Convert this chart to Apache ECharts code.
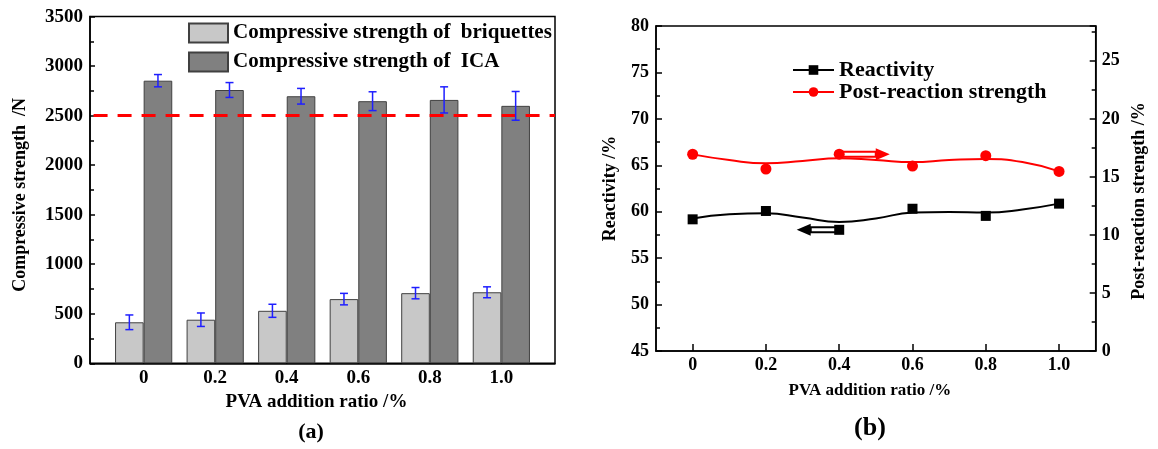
<!DOCTYPE html>
<html>
<head>
<meta charset="utf-8">
<script src="https://cdn.jsdelivr.net/npm/echarts@6/dist/echarts.min.js"></script>
<style>
  html, body { margin: 0; padding: 0; background: #fff; }
  #chart { width: 1158px; height: 449px; }
</style>
</head>
<body>
<div id="chart"></div>
<script>
// PVA addition ratio (%) and the tick labels printed for it
const ratios = [0, 0.2, 0.4, 0.6, 0.8, 1.0];
const ratioLabels = ['0', '0.2', '0.4', '0.6', '0.8', '1.0'];

// (a) compressive strength, N (mean and error-bar half range)
const briquetteStrength = [414, 440, 530, 648, 708, 717];
const briquetteError = [74, 68, 66, 58, 57, 55];
const icaStrength = [2853, 2759, 2696, 2646, 2659, 2599];
const icaError = [62, 75, 79, 95, 132, 145];
const strengthThreshold = 2500;

// (b) measured reactivity (%) and post-reaction strength (%)
const reactivity = [59.18, 60.08, 58.05, 60.32, 59.55, 60.87];
const postStrength = [16.95, 15.68, 16.96, 15.93, 16.83, 15.47];

// (b) fitted trend curves, sampled every 0.1 %
const fitRatios = [0, 0.1, 0.2, 0.3, 0.4, 0.5, 0.6, 0.7, 0.8, 0.9, 1.0];
const reactivityFit = [59.27, 59.73, 59.84, 59.38, 58.88, 59.27, 59.91, 59.98, 59.91, 60.24, 60.87];
const postStrengthFit = [16.94, 16.45, 16.17, 16.37, 16.60, 16.45, 16.28, 16.45, 16.54, 16.28, 15.48];

// direction arrows: tip position on the ratio axis
const reactivityArrowTip = 0.284;
const postStrengthArrowTip = 0.538;

const FONT = "'Liberation Serif', 'Times New Roman', serif";
const BAR_W = 28.6;

const names = {
  briq: 'Compressive strength of  briquettes',
  ica: 'Compressive strength of  ICA',
  react: 'Reactivity',
  post: 'Post-reaction strength'
};

function ratioLabel(v) {
  const i = ratios.findIndex(r => Math.abs(r - v) < 1e-6);
  return i >= 0 ? ratioLabels[i] : '';
}

function plainNumber(v) {
  return String(v);
}

function boldText(size) {
  return { fontFamily: FONT, fontWeight: 'bold', fontSize: size, color: '#000' };
}

const axisLine = { show: true, onZero: false, lineStyle: { color: '#000', width: 1.5 } };

function errorBars(offset) {
  return function (params, api) {
    const x = api.value(0);
    const hi = api.coord([x, api.value(2)]);
    const lo = api.coord([x, api.value(1)]);
    const cx = hi[0] + offset;
    const half = 4;
    const style = { stroke: '#1f1fff', lineWidth: 1.5, fill: null };
    return {
      type: 'group',
      children: [
        { type: 'line', shape: { x1: cx, y1: hi[1], x2: cx, y2: lo[1] }, style },
        { type: 'line', shape: { x1: cx - half, y1: hi[1], x2: cx + half, y2: hi[1] }, style },
        { type: 'line', shape: { x1: cx - half, y1: lo[1], x2: cx + half, y2: lo[1] }, style }
      ]
    };
  };
}

const panelLabels = [
  { id: 'labelA', type: 'text', x: 311, y: 432, style: { text: '(a)', align: 'center', verticalAlign: 'middle', font: 'bold 22px ' + FONT, fill: '#000' } },
  { id: 'labelB', type: 'text', x: 870, y: 428, style: { text: '(b)', align: 'center', verticalAlign: 'middle', font: 'bold 26px ' + FONT, fill: '#000' } }
];

const chart = echarts.init(document.getElementById('chart'), null, { renderer: 'canvas' });

const option = {
  backgroundColor: '#fff',
  animation: false,
  grid: [
    { left: 90, top: 16.6, width: 465, height: 346.7, show: true, borderColor: '#000', borderWidth: 1.5, backgroundColor: 'transparent' },
    { left: 656, top: 26, width: 439.7, height: 325, show: true, borderColor: '#000', borderWidth: 1.5, backgroundColor: 'transparent' }
  ],
  legend: [
    {
      data: [{ name: names.briq, icon: 'rect' }, { name: names.ica, icon: 'rect' }],
      orient: 'vertical', left: 188, top: 22.5, padding: 0,
      itemWidth: 39, itemHeight: 19, itemGap: 8,
      selectedMode: false,
      textStyle: boldText(21)
    },
    {
      data: [names.react, names.post],
      orient: 'vertical', left: 792, top: 59, padding: 0,
      itemWidth: 41, itemHeight: 12, itemGap: 0,
      selectedMode: false,
      textStyle: boldText(22)
    }
  ],
  xAxis: [
    {
      gridIndex: 0, type: 'value', min: -0.15, max: 1.15,
      axisLine: axisLine,
      axisTick: { show: false },
      splitLine: { show: false },
      axisLabel: Object.assign({ customValues: ratios, formatter: ratioLabel, margin: 5 }, boldText(19)),
      name: 'PVA addition ratio /%', nameLocation: 'middle', nameGap: 28,
      nameTextStyle: Object.assign({ padding: [0, 12, 0, 0] }, boldText(19))
    },
    {
      gridIndex: 1, type: 'value', min: -0.1, max: 1.1,
      axisLine: axisLine,
      axisTick: { show: true, inside: true, length: 7, customValues: ratios, lineStyle: { color: '#000', width: 1.5 } },
      splitLine: { show: false },
      axisLabel: Object.assign({ customValues: ratios, formatter: ratioLabel, margin: 5 }, boldText(18)),
      name: 'PVA addition ratio /%', nameLocation: 'middle', nameGap: 31,
      nameTextStyle: Object.assign({ padding: [0, 12, 0, 0] }, boldText(17))
    }
  ],
  yAxis: [
    {
      gridIndex: 0, type: 'value', min: 0, max: 3500, interval: 500,
      axisLine: axisLine,
      axisTick: { show: true, inside: true, length: 5, lineStyle: { color: '#000', width: 1.5 } },
      minorTick: { show: true, splitNumber: 2, length: 4, lineStyle: { color: '#000', width: 1.5 } },
      splitLine: { show: false },
      axisLabel: Object.assign({ margin: 7, formatter: plainNumber }, boldText(19)),
      name: 'Compressive strength  /N', nameLocation: 'middle', nameRotate: 90, nameGap: 61,
      nameTextStyle: Object.assign({ padding: [0, 10, 0, 0] }, boldText(18))
    },
    {
      gridIndex: 1, type: 'value', min: 45, max: 80, interval: 5,
      axisLine: axisLine,
      axisTick: { show: true, inside: true, length: 6, lineStyle: { color: '#000', width: 1.5 } },
      minorTick: { show: true, splitNumber: 2, length: 4, lineStyle: { color: '#000', width: 1.5 } },
      splitLine: { show: false },
      axisLabel: Object.assign({ margin: 7, formatter: plainNumber }, boldText(18)),
      name: 'Reactivity /%', nameLocation: 'middle', nameRotate: 90, nameGap: 37,
      nameTextStyle: boldText(18)
    },
    {
      gridIndex: 1, type: 'value', position: 'right', min: 0, max: 28, interval: 5,
      axisLine: axisLine,
      axisTick: { show: true, inside: true, length: 6, lineStyle: { color: '#000', width: 1.5 } },
      minorTick: { show: true, splitNumber: 2, length: 4, lineStyle: { color: '#000', width: 1.5 } },
      splitLine: { show: false },
      axisLabel: Object.assign({ margin: 6, showMaxLabel: false, formatter: plainNumber }, boldText(18)),
      name: 'Post-reaction strength /%', nameLocation: 'middle', nameRotate: 90, nameGap: 35,
      nameTextStyle: Object.assign({ padding: [0, 25, 0, 0] }, boldText(18))
    }
  ],
  series: [
    {
      name: names.briq, type: 'bar', xAxisIndex: 0, yAxisIndex: 0,
      barWidth: BAR_W, barGap: '0%',
      itemStyle: { color: '#c8c8c8', borderColor: '#404040', borderWidth: 1 },
      data: ratios.map((r, i) => [r, briquetteStrength[i]])
    },
    {
      name: names.ica, type: 'bar', xAxisIndex: 0, yAxisIndex: 0,
      barWidth: BAR_W, barGap: '0%',
      itemStyle: { color: '#808080', borderColor: '#404040', borderWidth: 1 },
      data: ratios.map((r, i) => [r, icaStrength[i]])
    },
    {
      // red dashed reference level at 2500 N
      name: 'threshold', type: 'line', xAxisIndex: 0, yAxisIndex: 0, z: 4,
      data: [],
      markLine: {
        silent: true, symbol: ['none', 'none'], label: { show: false },
        lineStyle: { color: '#ff0000', type: [14, 10], width: 3 },
        data: [[{ coord: [-0.14, strengthThreshold] }, { coord: [1.15, strengthThreshold] }]]
      }
    },
    {
      type: 'custom', xAxisIndex: 0, yAxisIndex: 0, z: 5,
      renderItem: errorBars(-BAR_W / 2),
      encode: { x: 0, y: [1, 2] },
      data: ratios.map((r, i) => [r, briquetteStrength[i] - briquetteError[i], briquetteStrength[i] + briquetteError[i]])
    },
    {
      type: 'custom', xAxisIndex: 0, yAxisIndex: 0, z: 5,
      renderItem: errorBars(BAR_W / 2),
      encode: { x: 0, y: [1, 2] },
      data: ratios.map((r, i) => [r, icaStrength[i] - icaError[i], icaStrength[i] + icaError[i]])
    },
    {
      name: names.react, type: 'line', xAxisIndex: 1, yAxisIndex: 1,
      smooth: true, symbol: 'rect', showSymbol: false,
      lineStyle: { color: '#000', width: 2 }, itemStyle: { color: '#000' },
      data: fitRatios.map((r, i) => [r, reactivityFit[i]])
    },
    {
      name: 'Reactivity points', type: 'scatter', xAxisIndex: 1, yAxisIndex: 1,
      symbol: 'rect', symbolSize: 10, itemStyle: { color: '#000', opacity: 1 }, z: 4,
      data: ratios.map((r, i) => [r, reactivity[i]])
    },
    {
      name: names.post, type: 'line', xAxisIndex: 1, yAxisIndex: 2,
      smooth: true, symbol: 'circle', showSymbol: false,
      lineStyle: { color: '#ff0000', width: 2 }, itemStyle: { color: '#ff0000' },
      data: fitRatios.map((r, i) => [r, postStrengthFit[i]])
    },
    {
      name: 'Post-reaction strength points', type: 'scatter', xAxisIndex: 1, yAxisIndex: 2,
      symbol: 'circle', symbolSize: 11, itemStyle: { color: '#ff0000', opacity: 1 }, z: 4,
      data: ratios.map((r, i) => [r, postStrength[i]])
    }
  ],
  graphic: panelLabels
};

chart.setOption(option);

// hollow arrows pointing from the 0.4 % points towards the axis each curve uses
function arrow(id, from, tip, color) {
  const dir = Math.sign(tip[0] - from[0]);
  const headLen = 14, headHalf = 6, shaftHalf = 2.5;
  const neck = tip[0] - dir * headLen;
  return {
    type: 'group', id: id, z: 1,
    children: [
      { type: 'rect', shape: { x: Math.min(from[0], neck), y: from[1] - shaftHalf, width: Math.abs(neck - from[0]), height: shaftHalf * 2 },
        style: { fill: null, stroke: color, lineWidth: 2 } },
      { type: 'polygon', shape: { points: [[tip[0], tip[1]], [neck, tip[1] - headHalf], [neck, tip[1] + headHalf]] },
        style: { fill: color } }
    ]
  };
}

const idx = ratios.indexOf(0.4);
const rFrom = chart.convertToPixel({ xAxisIndex: 1, yAxisIndex: 1 }, [ratios[idx], reactivity[idx]]);
const rTip = chart.convertToPixel({ xAxisIndex: 1, yAxisIndex: 1 }, [reactivityArrowTip, reactivity[idx]]);
const pFrom = chart.convertToPixel({ xAxisIndex: 1, yAxisIndex: 2 }, [ratios[idx], postStrength[idx]]);
const pTip = chart.convertToPixel({ xAxisIndex: 1, yAxisIndex: 2 }, [postStrengthArrowTip, postStrength[idx]]);

chart.setOption({
  graphic: panelLabels.concat([
    arrow('arrowReactivity', rFrom, rTip, '#000'),
    arrow('arrowPost', pFrom, pTip, '#ff0000')
  ])
});
</script>
</body>
</html>
